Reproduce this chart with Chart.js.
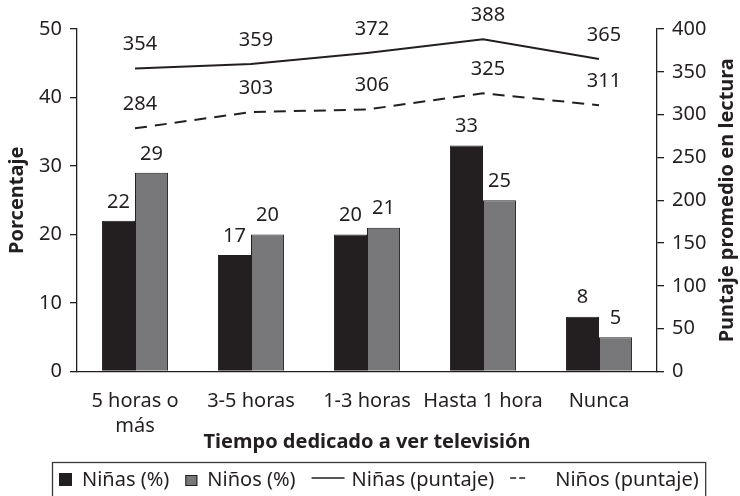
<!DOCTYPE html>
<html lang="es">
<head>
<meta charset="utf-8">
<title>Tiempo dedicado a ver televisión</title>
<script src="https://cdn.jsdelivr.net/npm/chart.js@4.4.1/dist/chart.umd.min.js"></script>
<style>
  html, body { margin: 0; padding: 0; background: #fff; }
  #wrap { width: 740px; height: 496px; }
</style>
</head>
<body>
<div id="wrap"><canvas id="chart" width="740" height="496"></canvas></div>
<script>
// Datos del gráfico
const categorias = [['5 horas o', 'más'], '3-5 horas', '1-3 horas', 'Hasta 1 hora', 'Nunca'];
const ninasPct = [22, 17, 20, 33, 8];
const ninosPct = [29, 20, 21, 25, 5];
const ninasPuntaje = [354, 359, 372, 388, 365];
const ninosPuntaje = [284, 303, 306, 325, 311];

// Ejes
const pctMax = 50, pctPaso = 10;
const puntajeMax = 400, puntajePaso = 50;

// Estilo
const OSCURO = '#231f20';
const GRIS = '#78787b';
const FUENTE = "'Noto Sans', sans-serif";

Chart.defaults.font.family = FUENTE;
Chart.defaults.font.size = 20;
Chart.defaults.color = OSCURO;

/**
 * Etiquetas de valor sobre barras y líneas
 */
const etiquetasPlugin = {
  id: 'etiquetas',
  afterDatasetsDraw(chart) {
    const ctx = chart.ctx;
    ctx.save();
    ctx.font = `20px ${FUENTE}`;
    ctx.fillStyle = OSCURO;
    ctx.textAlign = 'center';
    ctx.textBaseline = 'middle';
    chart.data.datasets.forEach((ds, i) => {
      const meta = chart.getDatasetMeta(i);
      const esLinea = ds.type === 'line';
      meta.data.forEach((el, j) => {
        const dx = esLinea ? 5 : 0;
        const dy = esLinea ? 24 : 19;
        ctx.fillText(String(ds.data[j]), el.x + dx, el.y - dy);
      });
    });
    ctx.restore();
  }
};

/**
 * Título del eje derecho (leído de abajo hacia arriba) y leyenda con marco
 */
const extrasPlugin = {
  id: 'extras',
  afterDraw(chart) {
    const ctx = chart.ctx;
    const area = chart.chartArea;

    // Título eje derecho
    ctx.save();
    ctx.font = `bold 20px ${FUENTE}`;
    ctx.fillStyle = OSCURO;
    ctx.textAlign = 'center';
    ctx.textBaseline = 'middle';
    ctx.translate(727, (area.top + area.bottom) / 2);
    ctx.rotate(-Math.PI / 2);
    ctx.fillText('Puntaje promedio en lectura', 0, 0);
    ctx.restore();

    // Leyenda
    ctx.save();
    ctx.font = `20px ${FUENTE}`;
    ctx.fillStyle = OSCURO;
    ctx.textBaseline = 'alphabetic';
    const base = 486;
    let x = 59;
    chart.data.datasets.forEach((ds, i) => {
      if (i > 0) x += 16;
      if (ds.type === 'line') {
        ctx.strokeStyle = ds.borderColor;
        ctx.lineWidth = 1.6;
        ctx.beginPath();
        if (ds.borderDash && ds.borderDash.length) {
          ctx.moveTo(x, 478); ctx.lineTo(x + 6, 478);
          ctx.moveTo(x + 9, 478); ctx.lineTo(x + 15, 478);
          ctx.stroke();
          x += 45;
        } else {
          ctx.moveTo(x, 478); ctx.lineTo(x + 33, 478);
          ctx.stroke();
          x += 40;
        }
      } else {
        const grande = i === 0;
        const w = grande ? 13 : 12, h = grande ? 13 : 11;
        ctx.fillStyle = ds.backgroundColor;
        ctx.fillRect(x, base - h, w, h);
        ctx.strokeStyle = OSCURO;
        ctx.lineWidth = 1;
        ctx.strokeRect(x + 0.5, base - h + 0.5, w - 1, h - 1);
        x += w + 10;
      }
      ctx.fillStyle = OSCURO;
      ctx.fillText(ds.label, x, base);
      x += ctx.measureText(ds.label).width;
    });
    ctx.strokeStyle = '#3a3a3a';
    ctx.lineWidth = 1.3;
    ctx.strokeRect(52.5, 462.5, x + 7 - 52.5, 60);
    ctx.restore();
  }
};

new Chart(document.getElementById('chart'), {
  data: {
    labels: categorias,
    datasets: [
      {
        type: 'bar', label: 'Niñas (%)', data: ninasPct, yAxisID: 'y',
        backgroundColor: OSCURO, borderColor: OSCURO, borderWidth: 1,
        categoryPercentage: 0.57, barPercentage: 1
      },
      {
        type: 'bar', label: 'Niños (%)', data: ninosPct, yAxisID: 'y',
        backgroundColor: GRIS, borderColor: OSCURO, borderWidth: 1,
        categoryPercentage: 0.57, barPercentage: 1
      },
      {
        type: 'line', label: 'Niñas (puntaje)', data: ninasPuntaje, yAxisID: 'y2',
        borderColor: OSCURO, borderWidth: 2, pointRadius: 0, tension: 0, fill: false
      },
      {
        type: 'line', label: 'Niños (puntaje)', data: ninosPuntaje, yAxisID: 'y2',
        borderColor: OSCURO, borderWidth: 2, borderDash: [12, 8], pointRadius: 0, tension: 0, fill: false
      }
    ]
  },
  options: {
    responsive: false,
    animation: false,
    layout: { padding: { top: 29, bottom: 42, left: 0, right: 0 } },
    plugins: {
      legend: { display: false },
      tooltip: { enabled: false }
    },
    scales: {
      x: {
        grid: { display: false },
        border: { display: true, color: OSCURO, width: 1.3 },
        ticks: { padding: 9, maxRotation: 0, autoSkip: false, font: { size: 20, lineHeight: 1.25 } },
        title: {
          display: true, text: 'Tiempo dedicado a ver televisión',
          font: { size: 20, weight: 'bold', lineHeight: 1.2 }, padding: { top: 0, bottom: 0 }
        },
        afterFit: scale => { scale.height = 82.5; }
      },
      y: {
        position: 'left', min: 0, max: pctMax,
        grid: { drawOnChartArea: false, drawTicks: true, tickLength: 7, color: OSCURO, lineWidth: 1.3 },
        border: { display: true, color: OSCURO, width: 1.3 },
        ticks: { stepSize: pctPaso, padding: 8 },
        title: {
          display: true, text: 'Porcentaje',
          font: { size: 20, weight: 'bold', lineHeight: 1.2 }, padding: { top: 5, bottom: 0 }
        },
        afterFit: scale => { scale.width = 77; }
      },
      y2: {
        position: 'right', min: 0, max: puntajeMax,
        grid: { drawOnChartArea: false, drawTicks: true, tickLength: 7, color: OSCURO, lineWidth: 1.3 },
        border: { display: true, color: OSCURO, width: 1.3 },
        ticks: { stepSize: puntajePaso, padding: 8 },
        afterFit: scale => { scale.width = 83; }
      }
    }
  },
  plugins: [etiquetasPlugin, extrasPlugin]
});
</script>
</body>
</html>
